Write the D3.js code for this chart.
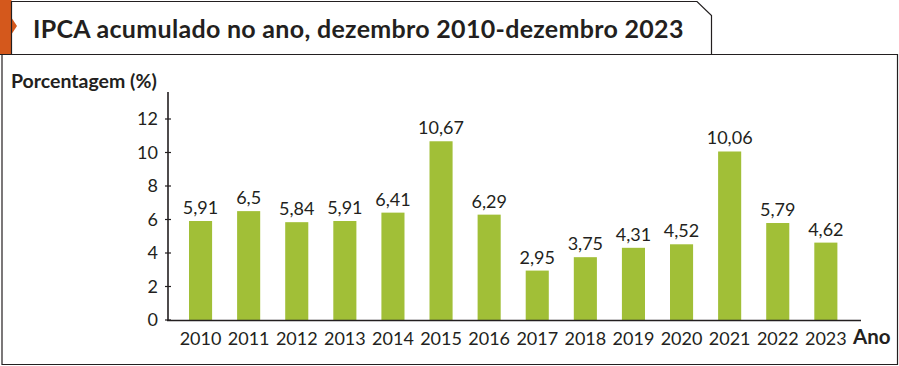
<!DOCTYPE html>
<html><head><meta charset="utf-8">
<script src="https://cdn.jsdelivr.net/npm/d3@7"></script>
<style>body{margin:0;background:#fff}svg{display:block}text{font-family:Lato,"Open Sans",sans-serif;fill:#231f20}</style>
</head><body><svg id="c" width="899" height="366"></svg>
<script>
const years = ["2010","2011","2012","2013","2014","2015","2016","2017","2018","2019","2020","2021","2022","2023"];
const values = [5.91,6.5,5.84,5.91,6.41,10.67,6.29,2.95,3.75,4.31,4.52,10.06,5.79,4.62];
const labels = ["5,91","6,5","5,84","5,91","6,41","10,67","6,29","2,95","3,75","4,31","4,52","10,06","5,79","4,62"];
const yTicks = [0,2,4,6,8,10,12];
const title = "IPCA acumulado no ano, dezembro 2010-dezembro 2023";
const yTitle = "Porcentagem (%)";
const xTitle = "Ano";

const svg = d3.select("#c");
const ink = "#231f20";
// frames
svg.append("rect").attr("x",0).attr("y",0).attr("width",11.5).attr("height",54.5).attr("fill","#d4581c");
svg.append("path").attr("d","M11,17 L17,26 L11,35 Z").attr("fill","#d4581c");
svg.append("path").attr("d","M11.5,54.5 V1.5 H697 L711.5,15.5 V54.5").attr("fill","none").attr("stroke",ink).attr("stroke-width",1.2);
svg.append("path").attr("d","M0,54.5 H897.5 V364.5 H2 V54.5").attr("fill","none").attr("stroke",ink).attr("stroke-width",1.2);

svg.append("text").attr("x",33).attr("y",38).attr("font-size",25).attr("font-weight",700).attr("letter-spacing",0.3).text(title);
svg.append("text").attr("x",11).attr("y",88).attr("font-size",19.5).attr("font-weight",700).text(yTitle);
svg.append("text").attr("x",853).attr("y",344).attr("font-size",20.5).attr("font-weight",700).text(xTitle);

const x = d3.scaleBand().domain(years).range([176.5,849.9]).paddingInner(0.52).paddingOuter(0.26);
const y = d3.scaleLinear().domain([0,12]).range([320,119]);

svg.selectAll("rect.bar").data(values).join("rect").attr("class","bar")
  .attr("x",(d,i)=>x(years[i])).attr("width",x.bandwidth())
  .attr("y",d=>y(d)).attr("height",d=>y(0)-y(d)).attr("fill","#a1bf37");

svg.selectAll("text.val").data(values).join("text").attr("class","val")
  .attr("x",(d,i)=>x(years[i])+x.bandwidth()/2).attr("y",d=>y(d)-7)
  .attr("text-anchor","middle").attr("font-size",18).text((d,i)=>labels[i]);

// y axis
const ya = svg.append("g").attr("transform","translate(168,0)")
  .call(d3.axisLeft(y).tickValues(yTicks).tickSize(0).tickPadding(10));
ya.select(".domain").remove();
ya.selectAll("text").attr("font-size",18).attr("fill",ink).style("font-family","Lato,'Open Sans',sans-serif");
svg.append("line").attr("x1",168).attr("x2",168).attr("y1",92).attr("y2",321).attr("stroke",ink).attr("stroke-width",1.6);
svg.selectAll("line.yt").data(yTicks).join("line").attr("class","yt")
  .attr("x1",165).attr("x2",171).attr("y1",d=>y(d)).attr("y2",d=>y(d)).attr("stroke",ink).attr("stroke-width",1.2);

// x axis
const xa = svg.append("g").attr("transform","translate(0,320)")
  .call(d3.axisBottom(x).tickSize(0).tickPadding(12));
xa.select(".domain").remove();
xa.selectAll("text").attr("font-size",18).attr("fill",ink).style("font-family","Lato,'Open Sans',sans-serif");
svg.append("line").attr("x1",167).attr("x2",861).attr("y1",320.5).attr("y2",320.5).attr("stroke",ink).attr("stroke-width",1.6);
</script></body></html>
